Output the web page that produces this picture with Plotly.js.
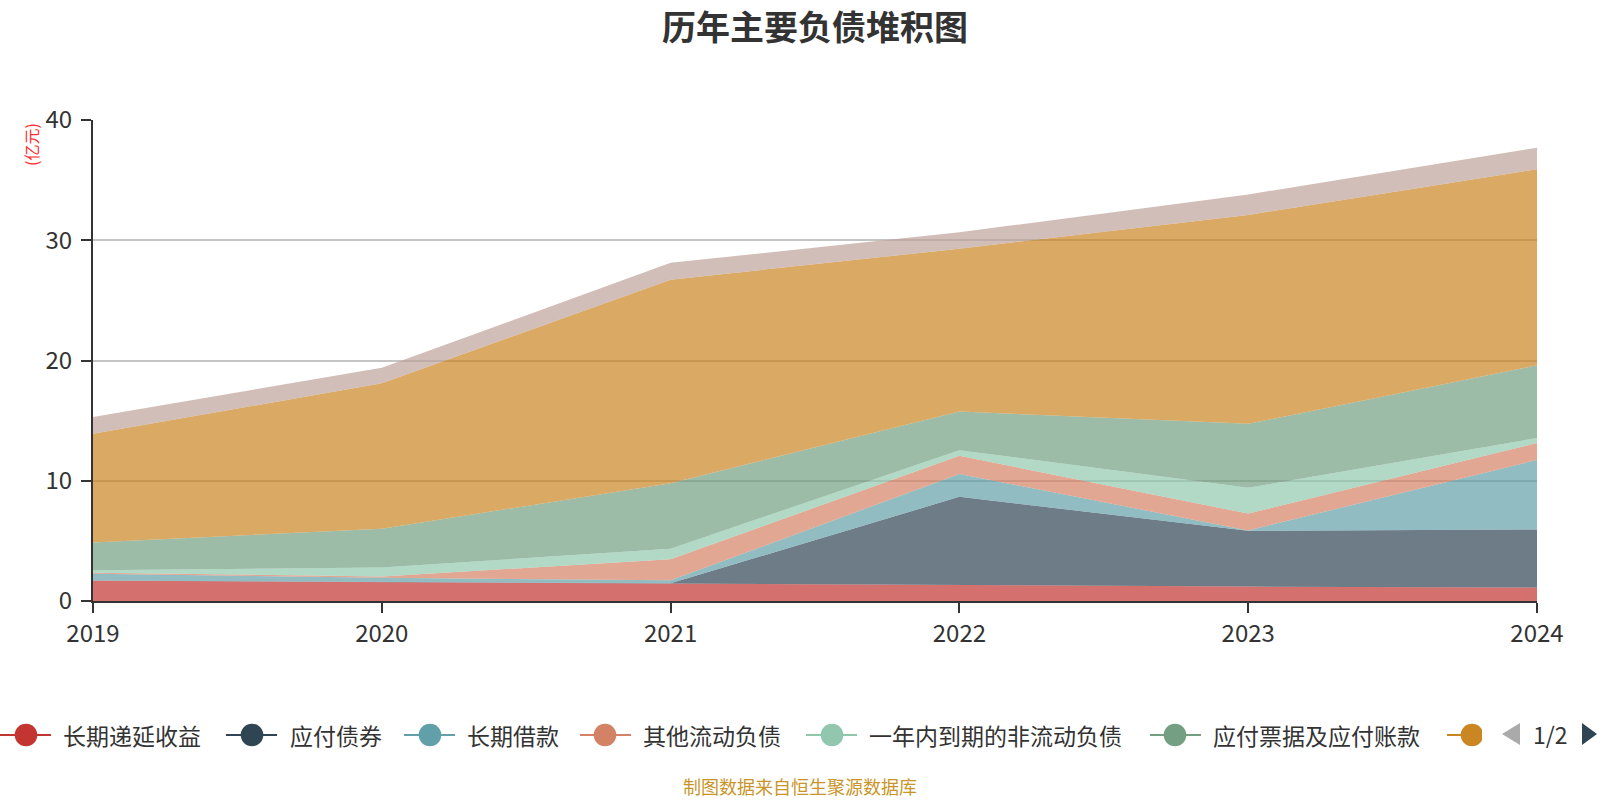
<!DOCTYPE html>
<html>
<head>
<meta charset="utf-8">
<script src="https://cdn.plot.ly/plotly-3.0.1.min.js"></script>
<style>
  html, body { margin: 0; padding: 0; background: #fff; }
  #chart { width: 1600px; height: 800px; }
</style>
</head>
<body>
<div id="chart"></div>
<script>
// ---- data (亿元) ----
const years = [2019, 2020, 2021, 2022, 2023, 2024];
const seriesNames = ['长期递延收益', '应付债券', '长期借款', '其他流动负债', '一年内到期的非流动负债', '应付票据及应付账款', '短期借款', '其他负债'];
const legendLabels = ['长期递延收益', '应付债券', '长期借款', '其他流动负债', '一年内到期的非流动负债', '应付票据及应付账款', ''];
const deferredIncome   = [1.70, 1.56, 1.42, 1.31, 1.20, 1.12];
const bondsPayable     = [0.00, 0.00, 0.05, 7.35, 4.64, 4.83];
const longTermLoans    = [0.57, 0.37, 0.25, 1.90, 0.03, 5.78];
const otherCurrent     = [0.08, 0.11, 1.76, 1.51, 1.40, 1.40];
const dueWithinYear    = [0.20, 0.74, 0.87, 0.47, 2.15, 0.42];
const notesAccounts    = [2.32, 3.22, 5.44, 3.21, 5.31, 6.05];
const shortTermLoans   = [9.03, 12.10, 16.93, 13.55, 17.38, 16.30];
const otherLiab        = [1.40, 1.30, 1.40, 1.36, 1.70, 1.80];
const seriesValues = [deferredIncome, bondsPayable, longTermLoans, otherCurrent, dueWithinYear, notesAccounts, shortTermLoans, otherLiab];
const yTicks = [0, 10, 20, 30, 40];

// ---- style ----
const colors = ['#c23531', '#2f4554', '#61a0a8', '#d48265', '#91c7ae', '#749f83', '#ca8622', '#bda29a'];
function rgba(hex, a) {
  const n = parseInt(hex.slice(1), 16);
  return 'rgba(' + ((n >> 16) & 255) + ',' + ((n >> 8) & 255) + ',' + (n & 255) + ',' + a + ')';
}
const W = 1600, H = 800;
const L = 93, R = 1537, T = 120, B = 601;
const px = x => (x - L) / (R - L);
const py = y => (B - y) / (B - T);
const FONT = '"Noto Sans CJK SC", "Noto Sans", sans-serif';

const traces = seriesValues.map((vals, i) => ({
  type: 'scatter',
  mode: 'lines',
  x: years,
  y: vals,
  name: seriesNames[i],
  stackgroup: 'one',
  fill: 'tonexty',
  fillcolor: rgba(colors[i], 0.7),
  line: { width: 0, color: colors[i] },
  hoverinfo: 'x+y+name',
  showlegend: false
}));

// ---- manual legend ----
const legY = 735;
const legItems = [
  { line: [0, 51], cx: 26, tx: 61 },
  { line: [226, 277], cx: 252, tx: 288 },
  { line: [404, 455], cx: 430, tx: 465 },
  { line: [580, 631], cx: 605, tx: 641 },
  { line: [806, 857], cx: 832, tx: 867 },
  { line: [1150, 1201], cx: 1175, tx: 1211 },
  { line: [1447, 1497], cx: 1472, tx: 1508 }
];
const shapes = [];
const annotations = [];
legItems.forEach((it, i) => {
  shapes.push({ type: 'line', xref: 'paper', yref: 'paper', x0: px(it.line[0]), x1: px(it.line[1]), y0: py(legY), y1: py(legY), line: { color: colors[i], width: 2 }, layer: 'above' });
  shapes.push({ type: 'circle', xref: 'paper', yref: 'paper', xsizemode: 'pixel', ysizemode: 'pixel', xanchor: px(it.cx), yanchor: py(legY), x0: -11.3, x1: 11.3, y0: -11.3, y1: 11.3, fillcolor: colors[i], line: { width: 0 }, layer: 'above' });
  if (legendLabels[i]) {
    annotations.push({ xref: 'paper', yref: 'paper', x: px(it.tx), y: py(legY), xanchor: 'left', yanchor: 'middle', showarrow: false, text: legendLabels[i], font: { family: FONT, size: 23, color: '#333' } });
  }
});
// clip the last legend item like the paginated legend
shapes.push({ type: 'rect', xref: 'paper', yref: 'paper', x0: px(1482), x1: px(1500), y0: py(722), y1: py(750), fillcolor: '#fff', line: { width: 0 }, layer: 'above' });
// pager arrows
shapes.push({ type: 'path', xref: 'paper', yref: 'paper', path: 'M ' + px(1502) + ',' + py(734) + ' L ' + px(1520) + ',' + py(723) + ' L ' + px(1520) + ',' + py(745) + ' Z', fillcolor: '#aaaaaa', line: { width: 0 }, layer: 'above' });
shapes.push({ type: 'path', xref: 'paper', yref: 'paper', path: 'M ' + px(1582) + ',' + py(723) + ' L ' + px(1597) + ',' + py(734) + ' L ' + px(1582) + ',' + py(745) + ' Z', fillcolor: '#2f4554', line: { width: 0 }, layer: 'above' });
annotations.push({ xref: 'paper', yref: 'paper', x: px(1550), y: py(734), xanchor: 'center', yanchor: 'middle', showarrow: false, text: '1/2', font: { family: FONT, size: 23, color: '#333' } });

// y-axis unit label
annotations.push({ xref: 'paper', yref: 'paper', x: px(31), y: py(145), xanchor: 'center', yanchor: 'middle', showarrow: false, textangle: -90, text: '(亿元)', font: { family: FONT, size: 16, color: '#ff2a2a' } });
// source note
annotations.push({ xref: 'paper', yref: 'paper', x: px(800), y: py(786), xanchor: 'center', yanchor: 'middle', showarrow: false, text: '制图数据来自恒生聚源数据库', font: { family: FONT, size: 18, color: '#c9952a' } });

const layout = {
  width: W, height: H,
  margin: { l: L, r: W - R, t: T, b: H - B, pad: 0 },
  paper_bgcolor: '#fff', plot_bgcolor: '#fff',
  showlegend: false,
  title: { text: '历年主要负债堆积图', x: 0.5, xanchor: 'center', xref: 'paper', y: 1 - 28 / H, yanchor: 'middle', font: { family: FONT, size: 34, color: '#333', weight: 700 } },
  xaxis: {
    type: 'linear', range: [years[0], years[years.length - 1]],
    tickvals: years, ticktext: years.map(String),
    showgrid: false, zeroline: false,
    showline: true, linecolor: '#333', linewidth: 2,
    ticks: 'outside', ticklen: 10, tickwidth: 2, tickcolor: '#333',
    tickfont: { family: FONT, size: 24, color: '#333' },
    fixedrange: true
  },
  yaxis: {
    range: [0, 40], tickvals: yTicks,
    showgrid: true, gridcolor: '#c4c4c4', gridwidth: 1.5,
    zeroline: false,
    showline: true, linecolor: '#333', linewidth: 2,
    ticks: 'outside', ticklen: 10, tickwidth: 2, tickcolor: '#333',
    tickfont: { family: FONT, size: 24, color: '#333' },
    ticklabelstandoff: 4,
    fixedrange: true
  },
  shapes: shapes,
  annotations: annotations
};

Plotly.newPlot('chart', traces, layout, { displayModeBar: false, staticPlot: false });
</script>
</body>
</html>
